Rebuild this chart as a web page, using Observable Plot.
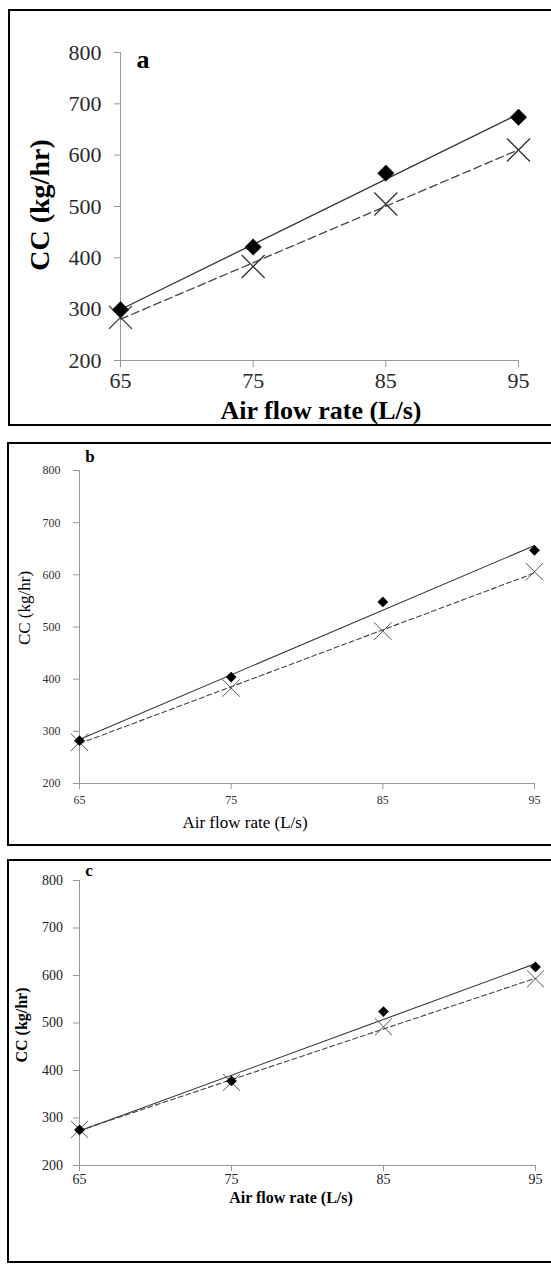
<!DOCTYPE html>
<html><head><meta charset="utf-8">
<script src="https://cdn.jsdelivr.net/npm/d3@7"></script>
<script src="https://cdn.jsdelivr.net/npm/@observablehq/plot@0.6"></script>
<style>
body{margin:0;background:#fff;width:551px;height:1264px;overflow:hidden;position:relative;font-family:"Liberation Serif","Times New Roman",serif;}
.panel{position:absolute;border:2px solid #000;box-sizing:border-box;pointer-events:none;}
.lbl{position:absolute;white-space:nowrap;color:#000;line-height:1;transform:translate(-50%,-50%);}
.rot{transform:translate(-50%,-50%) rotate(-90deg);}
.holder{position:absolute;left:0;}
.holder svg{display:block;}
</style></head><body>
<script>
// ---- data ----
const airflow = [65, 75, 85, 95];
const xTicks = [65, 75, 85, 95];
const yTicks = [200, 300, 400, 500, 600, 700, 800];
const aDiamond = [299, 421, 565, 674];
const aCross   = [284, 383, 505, 610];
const bDiamond = [282, 404, 548, 647];
const bCross   = [279, 383, 492, 606];
const cDiamond = [275, 378, 524, 618];
const cCross   = [276, 375, 492, 593];
const panelLetters = ["a", "b", "c"];
const yTitle = "CC (kg/hr)";
const xTitle = "Air flow rate (L/s)";

const rows = (ys) => airflow.map((x, i) => ({x, y: ys[i]}));
const FONT = '"Liberation Serif","Times New Roman",serif';

const panels = [
  {letter: panelLetters[0], dia: aDiamond, cro: aCross, top: 0, h: 430, mL: 120, mR: 33, mT: 52, mB: 70,
   fs: 22, padX: 5, padY: 13, tsX: 7, tsY: 6, tickText: "#2a2a2a", rD: 7.4, rX: 10.5, crossColor: "#333", crossW: 1.3,
   lineW: 1.3, dash: "8,4", solidColor: "#333", dashColor: "#444",
   border: {l: 8, t: 9, h: 417},
   letterPos: [143, 60, 26], yLab: [40, 205, 28, "bold"], xLab: [321, 411, 26, "bold"]},
  {letter: panelLetters[1], dia: bDiamond, cro: bCross, top: 430, h: 420, mL: 79, mR: 17, mT: 40, mB: 67,
   fs: 12, padX: 6, padY: 13, tsX: 6, tsY: 6, tickText: "#333", rD: 4.6, rX: 8, crossColor: "#555", crossW: 1,
   lineW: 1.1, dash: "5,3", solidColor: "#333", dashColor: "#444",
   border: {l: 6.5, t: 442, h: 404},
   letterPos: [90, 456, 17], yLab: [24, 608, 17, "normal"], xLab: [245, 822, 17, "normal"]},
  {letter: panelLetters[2], dia: cDiamond, cro: cCross, top: 850, h: 414, mL: 79, mR: 16, mT: 30, mB: 99,
   fs: 14, padX: 3, padY: 10.5, tsX: 6, tsY: 6, tickText: "#222", rD: 4.6, rX: 7.7, crossColor: "#555", crossW: 1,
   lineW: 1.1, dash: "5,3", solidColor: "#333", dashColor: "#444",
   border: {l: 6.5, t: 859, h: 404},
   letterPos: [89, 870, 17], yLab: [22, 1025, 16, "bold"], xLab: [291, 1198, 16, "bold"]}
];

for (const p of panels) {
  const dD = rows(p.dia), dC = rows(p.cro);
  const svg = Plot.plot({
    width: 551, height: p.h,
    marginLeft: p.mL, marginRight: p.mR, marginTop: p.mT, marginBottom: p.mB,
    style: {fontFamily: FONT, fontSize: p.fs + "px", color: "#999", background: "transparent", overflow: "visible"},
    x: {domain: [xTicks[0], xTicks[xTicks.length - 1]], ticks: xTicks, tickSize: p.tsX, tickPadding: p.padX, label: null, tickFormat: d => String(d)},
    y: {domain: [yTicks[0], yTicks[yTicks.length - 1]], ticks: yTicks, tickSize: p.tsY, tickPadding: p.padY, label: null, tickFormat: d => String(d)},
    marks: [
      Plot.ruleX([xTicks[0]], {stroke: "#999", strokeWidth: 1}),
      Plot.ruleY([yTicks[0]], {stroke: "#999", strokeWidth: 1}),
      Plot.linearRegressionY(dC, {x: "x", y: "y", ci: 0, stroke: p.dashColor, strokeWidth: p.lineW, strokeDasharray: p.dash}),
      Plot.linearRegressionY(dD, {x: "x", y: "y", ci: 0, stroke: p.solidColor, strokeWidth: p.lineW}),
      Plot.dot(dC, {x: "x", y: "y", symbol: "times", r: p.rX, stroke: p.crossColor, strokeWidth: p.crossW}),
      Plot.dot(dD, {x: "x", y: "y", symbol: "diamond2", r: p.rD, fill: "#000", stroke: "#000", strokeWidth: 0.5})
    ]
  });
  d3.select(svg).selectAll("text")
    .style("font-family", FONT)
    .style("font-size", p.fs + "px");
  d3.select(svg).selectAll("g[aria-label*='axis'] text").attr("fill", p.tickText);
  const holder = document.createElement("div");
  holder.className = "holder";
  holder.style.top = p.top + "px";
  holder.appendChild(svg);
  document.body.appendChild(holder);

  const b = document.createElement("div");
  b.className = "panel";
  Object.assign(b.style, {left: p.border.l + "px", top: p.border.t + "px", width: "620px", height: p.border.h + "px"});
  document.body.appendChild(b);

  const mk = (txt, x, y, size, weight, rot) => {
    const s = document.createElement("div");
    s.className = "lbl" + (rot ? " rot" : "");
    s.textContent = txt;
    Object.assign(s.style, {left: x + "px", top: y + "px", fontSize: size + "px", fontWeight: weight});
    document.body.appendChild(s);
  };
  mk(p.letter, p.letterPos[0], p.letterPos[1], p.letterPos[2], "bold", false);
  mk(yTitle, p.yLab[0], p.yLab[1], p.yLab[2], p.yLab[3], true);
  mk(xTitle, p.xLab[0], p.xLab[1], p.xLab[2], p.xLab[3], false);
}
</script>
</body></html>
